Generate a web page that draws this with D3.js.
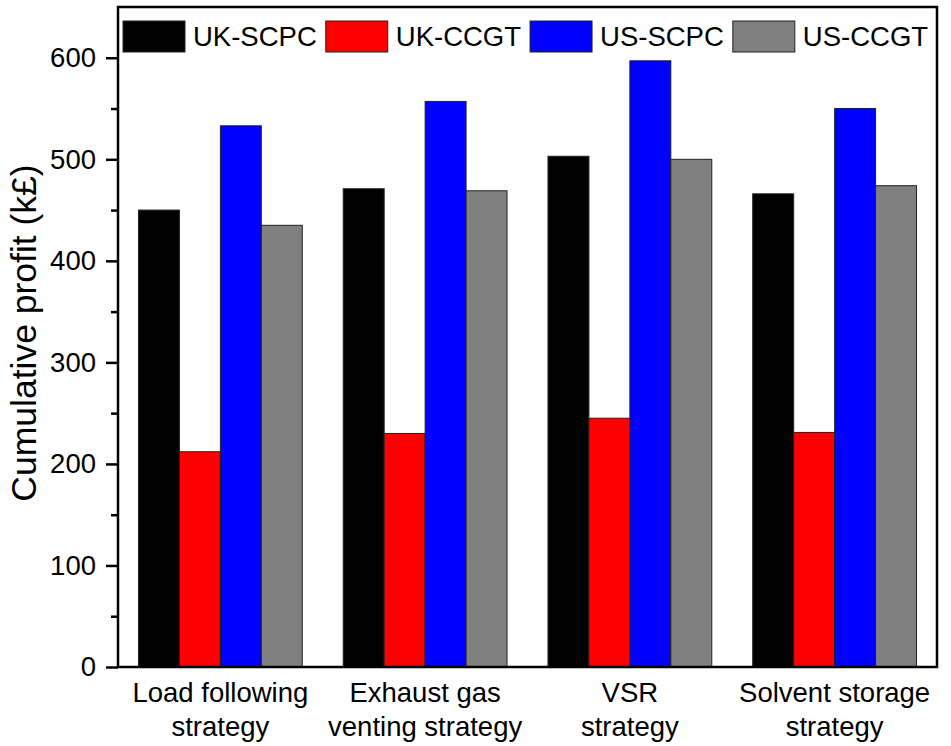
<!DOCTYPE html>
<html>
<head>
<meta charset="utf-8">
<script src="https://cdn.jsdelivr.net/npm/d3@7"></script>
<style>
  body { margin: 0; background: #fff; }
  text { font-family: "Liberation Sans", Arial, sans-serif; fill: #000; }
</style>
</head>
<body>
<div id="chart"></div>
<script>
// Data
let strategies = ["Load following strategy", "Exhaust gas venting strategy", "VSR strategy", "Solvent storage strategy"];
let labelLines = [["Load following", "strategy"], ["Exhaust gas", "venting strategy"], ["VSR", "strategy"], ["Solvent storage", "strategy"]];
let seriesNames = ["UK-SCPC", "UK-CCGT", "US-SCPC", "US-CCGT"];
let ukScpc = [450, 471, 503, 466];
let ukCcgt = [212, 230, 245, 231];
let usScpc = [533, 557, 597, 550];
let usCcgt = [435, 469, 500, 474];
let yTicks = [0, 100, 200, 300, 400, 500, 600];

let colors = ["#000000", "#ff0000", "#0000ff", "#808080"];
let allSeries = [ukScpc, ukCcgt, usScpc, usCcgt];

let width = 951, height = 746;
let margin = ({top: 7, right: 14, bottom: 79, left: 118});

let svg = d3.select("#chart")
    .append("svg")
    .attr("width", width)
    .attr("height", height)

let xScale = d3.scaleBand()
    .domain(strategies)
    .range([margin.left, width - margin.right])
    .paddingInner(0.2)
    .paddingOuter(0.1)

let xSub = d3.scaleBand()
    .domain(seriesNames)
    .range([0, xScale.bandwidth()])

let yScale = d3.scaleLinear()
    .domain([0, 650])
    .range([height - margin.bottom, margin.top])

// bars
let rows = strategies.map((s, i) => ({
    strategy: s,
    values: seriesNames.map((n, j) => ({name: n, value: allSeries[j][i], color: colors[j]}))
}))

svg.append("g")
    .selectAll("g")
    .data(rows)
    .enter()
    .append("g")
    .attr("transform", d => "translate(" + xScale(d.strategy) + ",0)")
    .selectAll("rect")
    .data(d => d.values)
    .enter()
    .append("rect")
    .attr("x", d => xSub(d.name))
    .attr("y", d => yScale(d.value))
    .attr("width", xSub.bandwidth())
    .attr("height", d => yScale(0) - yScale(d.value))
    .attr("fill", d => d.color)
    .attr("stroke", "#222")
    .attr("stroke-width", 1)

// y axis, major + minor ticks
let yAxis = d3.axisLeft(yScale).tickValues(yTicks).tickSize(12).tickPadding(10)
let yMinor = d3.axisLeft(yScale).tickValues(d3.range(50, 650, 100)).tickSize(7).tickFormat("")

let ya = svg.append("g")
    .attr("class", "yaxis")
    .attr("transform", "translate(" + margin.left + ",0)")
    .call(yAxis)
ya.select(".domain").remove()
ya.selectAll("line").attr("stroke", "#000").attr("stroke-width", 2.5)
ya.selectAll("text").attr("font-size", 27.5).attr("font-family", "Liberation Sans, Arial, sans-serif")

let ym = svg.append("g")
    .attr("transform", "translate(" + margin.left + ",0)")
    .call(yMinor)
ym.select(".domain").remove()
ym.selectAll("line").attr("stroke", "#000").attr("stroke-width", 2.5)

// frame
svg.append("rect")
    .attr("x", margin.left)
    .attr("y", margin.top)
    .attr("width", width - margin.right - margin.left)
    .attr("height", height - margin.bottom - margin.top)
    .attr("fill", "none")
    .attr("stroke", "#000")
    .attr("stroke-width", 2.5)

// category labels
let cats = svg.append("g")
    .selectAll("text")
    .data(strategies)
    .enter()
    .append("text")
    .attr("text-anchor", "middle")
    .attr("font-size", 27.5)
    .attr("x", d => xScale(d) + xScale.bandwidth() / 2)
    .attr("y", height - margin.bottom + 35)
cats.each(function (d, i) {
    let t = d3.select(this)
    labelLines[i].forEach((line, k) => {
        t.append("tspan")
            .attr("x", xScale(d) + xScale.bandwidth() / 2)
            .attr("dy", k === 0 ? 0 : 34)
            .text(line)
    })
})

// y title
svg.append("text")
    .attr("transform", "translate(36," + (yScale(325) - 4) + ") rotate(-90)")
    .attr("text-anchor", "middle")
    .attr("font-size", 35.5)
    .text("Cumulative profit (k£)")

// legend
let lx = 123
seriesNames.forEach((n, j) => {
    svg.append("rect")
        .attr("x", lx)
        .attr("y", 21)
        .attr("width", 62)
        .attr("height", 31)
        .attr("fill", colors[j])
        .attr("stroke", "#222")
        .attr("stroke-width", 1)
    let t = svg.append("text")
        .attr("x", lx + 70)
        .attr("y", 46)
        .attr("font-size", 27.5)
        .text(n)
    lx = lx + 70 + t.node().getComputedTextLength() + 9
})
</script>
</body>
</html>
